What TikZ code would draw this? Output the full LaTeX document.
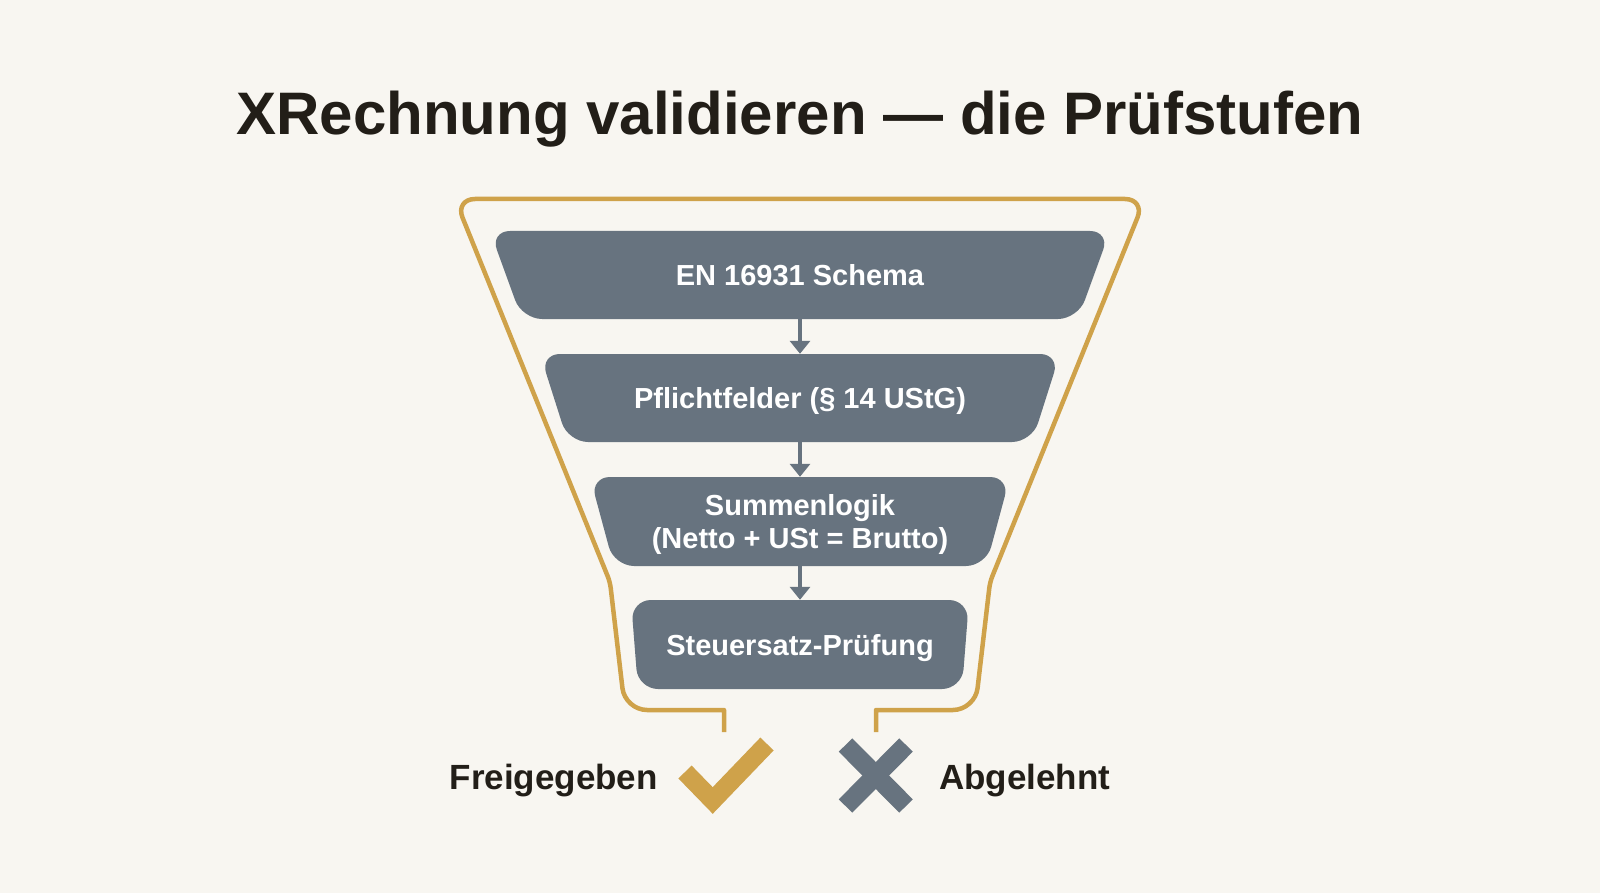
\documentclass[tikz,border=0pt]{standalone}
\usepackage{fontspec}
\setmainfont{Liberation Sans}
\usetikzlibrary{arrows.meta}
\definecolor{bg}{HTML}{F8F6F1}
\definecolor{slate}{HTML}{67737F}
\definecolor{gold}{HTML}{CFA24A}
\definecolor{ink}{HTML}{221E18}
\tikzset{
  stagebox/.style={fill=slate, rounded corners=20pt},
  stagetext/.style={text=white, font=\bfseries\fontsize{29}{33}\selectfont, align=center, inner sep=0pt, minimum width=300pt, text depth=0pt},
  flow/.style={draw=slate, line width=4.5pt, -{Triangle[width=20pt,length=13pt]}},
  funnel/.style={draw=gold, line width=4.5pt, line join=round},
  lbl/.style={text=ink, font=\bfseries\fontsize{35}{40}\selectfont, inner sep=0pt},
}
\begin{document}
\begin{tikzpicture}[x=1pt, y=-1pt]
\useasboundingbox (0,0) rectangle (1600,893);
\fill[bg] (0,0) rectangle (1600,893);

% title
\node[anchor=base, text=ink, font=\bfseries\fontsize{60}{70}\selectfont, inner sep=0pt] (title) at (800,135) {XRechnung validieren — die Prüfstufen};

% funnel outline
\draw[funnel] (724,732) -- (724,710) [rounded corners=22pt] -- (625,710) [rounded corners=6pt] -- (610,582) [rounded corners=20pt] -- (455,199) -- (1145,199) [rounded corners=6pt] -- (990,582) [rounded corners=22pt] -- (975,710) [sharp corners] -- (876,710) -- (876,732);

% stage boxes
\fill[stagebox] (490,231) -- (1110,231) -- (1078,319) -- (522,319) -- cycle;
\node[stagetext, minimum height=88pt, text height=21pt] (b1) at (800,275) {EN 16931 Schema};

\fill[stagebox] (540,354) -- (1060,354) -- (1032,442) -- (568,442) -- cycle;
\node[stagetext, minimum height=88pt, text height=21pt] (b2) at (800,398) {Pflichtfelder (§ 14 UStG)};

\fill[stagebox] (590,477) -- (1010,477) -- (986,566) -- (614,566) -- cycle;
\node[stagetext, minimum height=89pt] (b3) at (800,521.5) {Summenlogik\\(Netto + USt = Brutto)};

\fill[stagebox] (631,600) -- (969,600) -- (962,689) -- (638,689) -- cycle;
\node[stagetext, minimum height=89pt, text height=21pt] (b4) at (800,644.5) {Steuersatz-Prüfung};

% arrows
\draw[flow] (b1.south) -- (b2.north);
\draw[flow] (b2.south) -- (b3.north);
\draw[flow] (b3.south) -- (b4.north);

% check mark
\coordinate (ck1) at (685,772);
\coordinate (ck2) at (712.7,800.5);
\coordinate (ck3) at (767,744);
\draw[draw=gold, line width=18.5pt, line join=miter] (ck1) -- (ck2) -- (ck3);

% cross
\coordinate (x1) at (845.5,745);
\coordinate (x2) at (906,806);
\coordinate (x3) at (906,745);
\coordinate (x4) at (845.5,806);
\draw[draw=slate, line width=19pt] (x1) -- (x2);
\draw[draw=slate, line width=19pt] (x3) -- (x4);

% labels
\node[lbl, anchor=base east] (ok) at (658,789) {Freigegeben};
\node[lbl, anchor=base west] (no) at (939,789) {Abgelehnt};
\end{tikzpicture}
\end{document}
